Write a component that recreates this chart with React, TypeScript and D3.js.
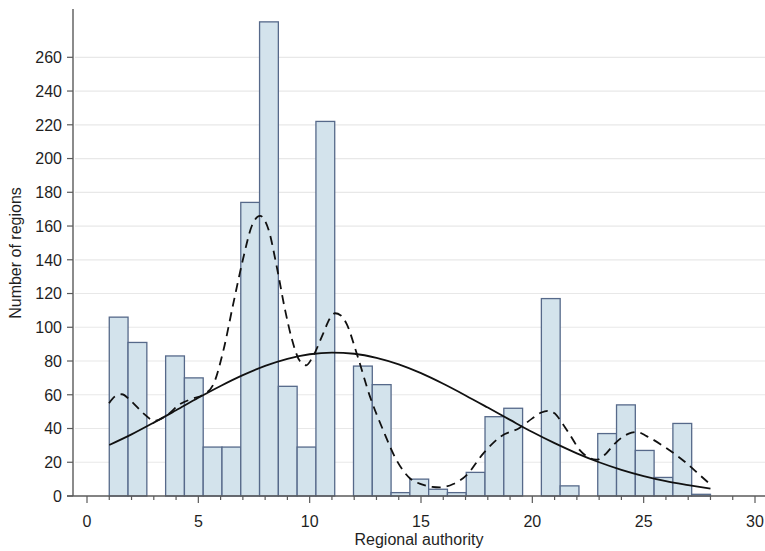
import React from "react";
import * as d3 from "d3";

// Histogram: 32 bins from 1 to 28
const binStart = 1;
const binEnd = 28;
const binCounts = [106, 91, 0, 83, 70, 29, 29, 174, 281, 65, 29, 222, 0, 77, 66, 2, 10, 4, 2, 14, 47, 52, 0, 117, 6, 0, 37, 54, 27, 11, 43, 1];

// Normal density curve (scaled to counts)
const normalX = [1, 2, 3, 4, 5, 6, 7, 8, 9, 10, 11, 12, 13, 14, 15, 16, 17, 18, 19, 20, 21, 22, 23, 24, 25, 26, 27, 28];
const normalY = [30.2, 36.5, 43.5, 50.8, 58.2, 65.2, 71.6, 77.1, 81.3, 84, 85, 84.3, 81.9, 78, 72.8, 66.5, 59.6, 52.4, 45.1, 37.9, 31.3, 25.3, 20, 15.5, 11.8, 8.8, 6.5, 4.4];

// Kernel density curve (scaled to counts)
const kdeX = [0.99, 1.25, 1.56, 2.0, 2.53, 3.05, 3.6, 4.18, 4.7, 5.22, 5.67, 6.12, 6.57, 7.0, 7.4, 7.77, 8.15, 8.52, 8.9, 9.2, 9.56, 9.85, 10.1, 10.61, 10.9, 11.14, 11.4, 11.66, 12.11, 12.71, 13.3, 13.9, 14.5, 15.0, 15.5, 15.85, 16.45, 17.05, 17.8, 18.55, 19.44, 20.0, 20.4, 20.7, 21.0, 21.3, 21.7, 22.14, 22.5, 22.88, 23.3, 23.63, 24.0, 24.46, 24.7, 25.13, 26.03, 26.93, 27.52, 27.9];
const kdeY = [55, 59, 60.3, 56, 49, 44.6, 48, 54.5, 57.5, 60, 66, 86, 114, 140, 160, 166, 158, 136, 110, 93, 80, 77.5, 81.6, 96.4, 105, 108.3, 107, 102, 84.6, 58.9, 39, 21.3, 10.5, 7, 5.4, 5.1, 7.1, 12.4, 25.3, 35, 40.5, 46, 49.5, 50.5, 49, 44, 36, 27, 23, 21.5, 25, 30, 34.5, 37.5, 38, 35.5, 28.3, 19.4, 12.4, 8];

const yTicks = [0, 20, 40, 60, 80, 100, 120, 140, 160, 180, 200, 220, 240, 260];
const xMajorTicks = [0, 5, 10, 15, 20, 25, 30];
const xMinorTicks = d3.range(0, 31);

const xLabel = "Regional authority";
const yLabel = "Number of regions";

export default function App() {
  const W = 765;
  const H = 551;
  const axisX = 73;
  const axisY = 496;
  const x = d3.scaleLinear().domain([0, 30]).range([87, 755]);
  const y = d3.scaleLinear().domain([0, 260]).range([496, 57.3]);
  const bw = (binEnd - binStart) / binCounts.length;

  const line = d3
    .line<[number, number]>()
    .x((d) => x(d[0]))
    .y((d) => y(d[1]))
    .curve(d3.curveMonotoneX);

  const normalPts = normalX.map((v, i) => [v, normalY[i]] as [number, number]);
  const kdePts = kdeX.map((v, i) => [v, kdeY[i]] as [number, number]);

  const font = "'Liberation Sans', Arial, sans-serif";
  const axisColor = "#5a5a5a";
  const textColor = "#1f1f1f";

  return (
    <svg
      width={W}
      height={H}
      style={{ position: "absolute", left: 0, top: 0, background: "#fff" }}
      fontFamily={font}
    >
      {/* grid */}
      {yTicks
        .filter((t) => t > 0)
        .map((t) => (
          <line key={"g" + t} x1={axisX + 2} x2={W} y1={y(t)} y2={y(t)} stroke="#e8e8e8" strokeWidth={1.2} />
        ))}
      {/* bars */}
      {binCounts.map((c, i) =>
        c > 0 ? (
          <rect
            key={"b" + i}
            x={x(binStart + i * bw)}
            y={y(c)}
            width={x(binStart + (i + 1) * bw) - x(binStart + i * bw)}
            height={y(0) - y(c)}
            fill="#d3e3ec"
            stroke="#56698a"
            strokeWidth={1.3}
          />
        ) : null
      )}
      {/* curves */}
      <path d={line(normalPts) || ""} fill="none" stroke="#111" strokeWidth={1.8} />
      <path d={line(kdePts) || ""} fill="none" stroke="#111" strokeWidth={1.8} strokeDasharray="9,6" />
      {/* y axis */}
      <line x1={axisX} x2={axisX} y1={9} y2={axisY} stroke={axisColor} strokeWidth={1.4} />
      {yTicks.map((t) => (
        <g key={"yt" + t}>
          <line x1={axisX - 6} x2={axisX} y1={y(t)} y2={y(t)} stroke={axisColor} strokeWidth={1.2} />
          <text x={62} y={y(t)} dy="0.36em" textAnchor="end" fontSize={16} fill={textColor}>
            {t}
          </text>
        </g>
      ))}
      {/* x axis */}
      <line x1={axisX - 6} x2={W} y1={axisY} y2={axisY} stroke={axisColor} strokeWidth={1.4} />
      {xMinorTicks.map((t) => (
        <line
          key={"xm" + t}
          x1={x(t)}
          x2={x(t)}
          y1={axisY}
          y2={axisY + (t % 5 === 0 ? 7 : 4)}
          stroke={axisColor}
          strokeWidth={1.2}
        />
      ))}
      {xMajorTicks.map((t) => (
        <text key={"xl" + t} x={x(t)} y={527} textAnchor="middle" fontSize={16} fill={textColor}>
          {t}
        </text>
      ))}
      <text x={419} y={545} textAnchor="middle" fontSize={16} fill={textColor}>
        {xLabel}
      </text>
      <text
        transform={`translate(21, 253) rotate(-90)`}
        textAnchor="middle"
        fontSize={16}
        fill={textColor}
      >
        {yLabel}
      </text>
    </svg>
  );
}
